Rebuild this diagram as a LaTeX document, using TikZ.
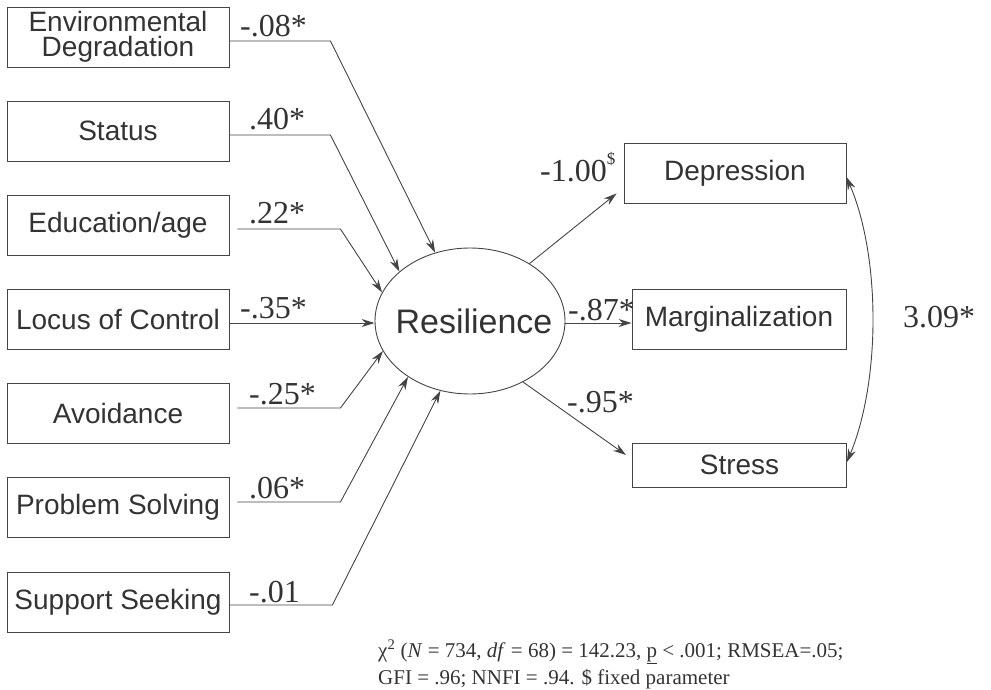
\documentclass[tikz,border=0pt]{standalone}
\usepackage{fontspec}
\setmainfont{Liberation Serif}
\setsansfont{Liberation Sans}
\usetikzlibrary{arrows.meta,shapes.geometric}
\definecolor{linec}{HTML}{444444}
\definecolor{txtc}{HTML}{333333}
\begin{document}
\begin{tikzpicture}[x=1pt,y=-1pt,
  var/.style={draw=linec, line width=0.9pt, minimum width=222pt, minimum height=60pt,
    inner sep=0pt, align=center, text=txtc, font=\sffamily\fontsize{28}{25}\selectfont},
  outvar/.style={var, minimum width=214pt},
  latent/.style={ellipse, draw=linec, line width=0.9pt, minimum width=190pt, minimum height=146pt,
    inner sep=0pt, text=txtc, font=\sffamily\fontsize{34}{40}\selectfont},
  coef/.style={anchor=base west, inner sep=0pt, text=txtc, font=\fontsize{32}{36}\selectfont},
  path/.style={draw=linec, line width=0.9pt, -{Stealth[length=13pt,width=8pt]}},
  cov/.style={draw=linec, line width=0.9pt, {Stealth[length=13pt,width=8pt]}-{Stealth[length=13pt,width=8pt]}},
  note/.style={anchor=base west, inner sep=0pt, text=txtc, font=\fontsize{21}{26}\selectfont}]
\useasboundingbox (0,0) rectangle (991,690);

% predictors
\node[var] (env) at (118,37)  {Environmental\\Degradation};
\node[var] (sta) at (118,131) {Status};
\node[var] (edu) at (118,225) {Education/age};
\node[var] (loc) at (118,319) {Locus of Control};
\node[var] (avo) at (118,413) {Avoidance};
\node[var] (pro) at (118,507) {Problem Solving};
\node[var] (sup) at (118,602) {Support Seeking};

% latent factor (label kept out of the size computation)
\node[latent] (res) at (470,321) {\makebox[0pt]{\hspace*{8pt}Resilience}};

% outcomes
\node[var] (dep) at (735,173) {Depression};
\node[outvar] (mar) at (739,319) {Marginalization};
\node[outvar, minimum height=44pt] (str) at (739.5,465) {Stress};

% paths into the factor
\draw[path] ([yshift=-4pt]env.east) -- ++(101,0) -- (res.117.5);
\draw[path] ([yshift=-4pt]sta.east) -- ++(101,0) -- (res.145.1);
\draw[path] ([shift={(8pt,-4pt)}]edu.east) -- ++(103,0) -- (res.162.5);
\draw[path] ([yshift=-4pt]loc.east) -- ([yshift=-4pt]loc.east -| res.west);
\draw[path] ([shift={(8pt,5pt)}]avo.east) -- ++(103,0) -- (res.199.4);
\draw[path] ([shift={(8pt,5pt)}]pro.east) -- ++(103,0) -- (res.222.1);
\draw[path] ([yshift=-3pt]sup.east) -- ++(103,0) -- (res.247.4);

% paths out of the factor
\draw[path] (res.44.6) -- ([shift={(-7pt,10pt)}]dep.south west);
\draw[path] ([yshift=-4pt]mar.west -| res.east) -- ([yshift=-4pt]mar.west);
\draw[path] (res.-49.5) -- ([shift={(-6pt,10pt)}]str.west);

% residual covariance
\draw[cov] ([yshift=-4pt]dep.east) .. controls ([shift={(34pt,-83pt)}]dep.east) and ([shift={(34pt,85pt)}]str.east) .. ([yshift=3pt]str.east);

% coefficients
\node[coef] (c1) at (240,37)  {-.08*};
\node[coef] (c2) at (249,130) {.40*};
\node[coef] (c3) at (249,223) {.22*};
\node[coef] (c4) at (240,318) {-.35*};
\node[coef] (c5) at (249,404) {-.25*};
\node[coef] (c6) at (249,498) {.06*};
\node[coef] (c7) at (249,602) {-.01};
\node[coef] (c8) at (540,182) {-1.00\raisebox{0.55em}{\fontsize{17}{20}\selectfont\$}};
\node[coef] (c9) at (568,320) {-.87*};
\node[coef] (c10) at (567,412) {-.95*};
\node[coef] (c11) at (903,327) {3.09*};

% fit statistics
\node[note] (fit1) at (378,657) {χ\textsuperscript{2} (\textit{N} = 734, \textit{df} = 68) = 142.23, \underline{p} < .001; RMSEA=.05;};
\node[note] (fit2) at (378,684) {GFI = .96; NNFI = .94. \$ fixed parameter};
\end{tikzpicture}
\end{document}
